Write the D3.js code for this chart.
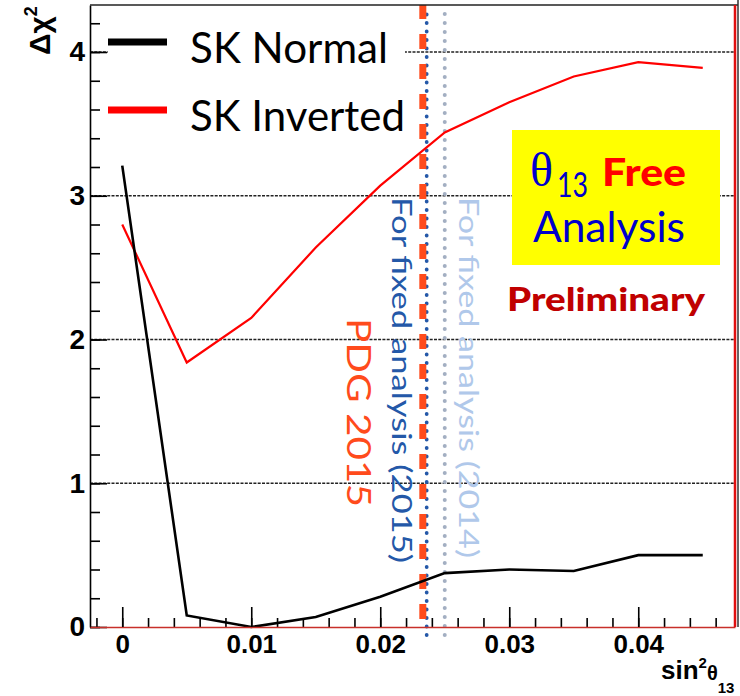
<!DOCTYPE html>
<html>
<head>
<meta charset="utf-8">
<script src="https://cdn.jsdelivr.net/npm/d3@7"></script>
<style>
body { margin: 0; background: #fff; }
svg { display: block; }
</style>
</head>
<body>
<svg width="740" height="696"></svg>
<script>
// DATA
var sin2 = [0, 0.005, 0.01, 0.015, 0.02, 0.025, 0.03, 0.035, 0.04, 0.045];
var skNormal = [3.21, 0.08, 0.0, 0.07, 0.21, 0.375, 0.40, 0.39, 0.50, 0.50];
var skInverted = [2.80, 1.84, 2.15, 2.64, 3.07, 3.44, 3.65, 3.83, 3.93, 3.89];
var seriesNames = ["SK Normal", "SK Inverted"];
var seriesColors = ["#000000", "#ff0000"];

var xTicks = [0, 0.01, 0.02, 0.03, 0.04];
var yTicks = [0, 1, 2, 3, 4];
var yGrid = [1, 2, 3, 4];

var pdg2015 = 0.0233;
var fixed2015 = 0.0236;
var fixed2014 = 0.0250;

var font_calibri = "Lato, 'Open Sans', sans-serif";
var font_root = "'Liberation Sans', Arial, sans-serif";

// SETUP
var svg = d3.select("svg"),
    x = d3.scaleLinear().domain([-0.0025, 0.0475]).range([90, 735]),
    y = d3.scaleLinear().domain([0, 4.327]).range([627, 5]);

var xMinor = d3.range(-1, 24).map(function (i) { return +(i * 0.002).toFixed(3); });
var yMinor = d3.range(0, 22).map(function (i) { return +(i * 0.2).toFixed(1); });

// GRID
svg.append("g").selectAll("line")
    .data(yGrid)
    .enter().append("line")
    .attr("x1", x.range()[0]).attr("x2", x.range()[1])
    .attr("y1", function (d) { return y(d); })
    .attr("y2", function (d) { return y(d); })
    .attr("stroke", "#222")
    .attr("stroke-width", 1.4)
    .attr("stroke-dasharray", "3,1.3");

// LEGEND BACKGROUND
svg.append("rect")
    .attr("x", 108).attr("y", 7)
    .attr("width", 297).attr("height", 143)
    .attr("fill", "#fff");

// REFERENCE LINES
svg.append("line")
    .attr("x1", x(fixed2014)).attr("x2", x(fixed2014))
    .attr("y1", y(0) + 8).attr("y2", 6)
    .attr("stroke", "#a3afc2").attr("stroke-width", 4)
    .attr("stroke-linecap", "round")
    .attr("stroke-dasharray", "0,9");

svg.append("line")
    .attr("x1", x(fixed2015)).attr("x2", x(fixed2015))
    .attr("y1", y(0) + 8).attr("y2", 6)
    .attr("stroke", "#2458a8").attr("stroke-width", 3.8)
    .attr("stroke-linecap", "round")
    .attr("stroke-dasharray", "0,8.5");

svg.append("line")
    .attr("x1", x(pdg2015)).attr("x2", x(pdg2015))
    .attr("y1", y(0)).attr("y2", 5)
    .attr("stroke", "#ff4b1c").attr("stroke-width", 7)
    .attr("stroke-dasharray", "15,15")
    .attr("stroke-dashoffset", 22);

// ROTATED LABELS
function vtext(tx, ty, str, size, color, len) {
    svg.append("text")
        .attr("transform", "translate(" + tx + "," + ty + ") rotate(90)")
        .attr("font-family", font_calibri)
        .attr("font-size", size)
        .attr("fill", color)
        .attr("textLength", len)
        .attr("lengthAdjust", "spacingAndGlyphs")
        .text(str);
}
vtext(392, 197, "For fixed analysis (2015)", 26, "#2458a8", 366);
vtext(459, 197, "For fixed analysis (2014)", 26, "#b0c8ea", 361);
vtext(347, 318, "PDG 2015", 32, "#ff4b1c", 189);

// DATA LINES
var line = d3.line()
    .x(function (d, i) { return x(sin2[i]); })
    .y(function (d) { return y(d); });

svg.append("path")
    .datum(skInverted)
    .attr("fill", "none")
    .attr("stroke", seriesColors[1])
    .attr("stroke-width", 2.2)
    .attr("d", line);

svg.append("path")
    .datum(skNormal)
    .attr("fill", "none")
    .attr("stroke", seriesColors[0])
    .attr("stroke-width", 2.6)
    .attr("d", line);

// AXES
function styleAxis(g) {
    g.selectAll(".tick line").attr("stroke", "#000").attr("stroke-width", 1.6);
    g.selectAll(".tick text")
        .attr("font-family", font_root)
        .attr("font-weight", "bold")
        .attr("font-size", 28)
        .attr("fill", "#000");
}

var gyMinor = svg.append("g").attr("transform", "translate(90,0)")
    .call(d3.axisLeft(y).tickValues(yMinor).tickSizeInner(-10).tickSizeOuter(0).tickFormat(""));
gyMinor.select(".domain").remove();
styleAxis(gyMinor);

var gy = svg.append("g").attr("transform", "translate(90,0)")
    .call(d3.axisLeft(y).tickValues(yTicks).tickSizeInner(-17).tickSizeOuter(0).tickPadding(5).tickFormat(d3.format("d")));
gy.select(".domain").attr("stroke", "#000").attr("stroke-width", 1.6);
styleAxis(gy);

var gxMinor = svg.append("g").attr("transform", "translate(0," + y(0) + ")")
    .call(d3.axisBottom(x).tickValues(xMinor).tickSizeInner(-9).tickSizeOuter(0).tickFormat(""));
gxMinor.select(".domain").remove();
styleAxis(gxMinor);

var gx = svg.append("g").attr("transform", "translate(0," + y(0) + ")")
    .call(d3.axisBottom(x).tickValues(xTicks).tickSizeInner(-20).tickSizeOuter(0).tickPadding(8)
        .tickFormat(function (d) { return d === 0 ? "0" : d3.format(".2f")(d); }));
gx.select(".domain").attr("stroke", "#c8302a").attr("stroke-width", 1.5);
styleAxis(gx);
gx.selectAll(".tick text").attr("font-size", 26);

// FRAME
svg.append("line")
    .attr("x1", 90).attr("x2", 738).attr("y1", 5).attr("y2", 5)
    .attr("stroke", "#222").attr("stroke-width", 1.6);
svg.append("line")
    .attr("x1", 735).attr("x2", 735).attr("y1", 5).attr("y2", y(0))
    .attr("stroke", "#e01010").attr("stroke-width", 2.5);
svg.append("line")
    .attr("x1", 738).attr("x2", 738).attr("y1", 0).attr("y2", y(0))
    .attr("stroke", "#333").attr("stroke-width", 1.5);

// AXIS TITLES
var yt = svg.append("text")
    .attr("transform", "translate(50,55) rotate(-90)")
    .attr("font-family", font_root)
    .attr("font-weight", "bold")
    .attr("font-size", 30)
    .attr("fill", "#000");
yt.append("tspan").text("\u0394\u03c7");
yt.append("tspan").attr("font-size", 18).attr("dy", -13).text("2");

var xt = svg.append("text")
    .attr("x", 661).attr("y", 679)
    .attr("font-family", font_root)
    .attr("font-weight", "bold")
    .attr("font-size", 26)
    .attr("fill", "#000");
xt.append("tspan").text("sin");
xt.append("tspan").attr("font-size", 15).attr("dy", -11).text("2");
xt.append("tspan").attr("font-size", 20).attr("dy", 12).text("\u03b8");
xt.append("tspan").attr("font-size", 15).attr("dy", 13).text("13");

// LEGEND
var legendY = [42, 110];
var legendLen = [198, 215];
seriesNames.forEach(function (name, i) {
    svg.append("line")
        .attr("x1", 108).attr("x2", 167)
        .attr("y1", legendY[i]).attr("y2", legendY[i])
        .attr("stroke", seriesColors[i])
        .attr("stroke-width", 7);
    svg.append("text")
        .attr("x", 190).attr("y", legendY[i] + 20.5)
        .attr("font-family", font_calibri)
        .attr("font-size", 42)
        .attr("fill", "#000")
        .attr("textLength", legendLen[i])
        .attr("lengthAdjust", "spacingAndGlyphs")
        .text(name);
});

// THETA13 FREE BOX
svg.append("rect")
    .attr("x", 512).attr("y", 130)
    .attr("width", 208).attr("height", 135)
    .attr("fill", "#ffff00");

svg.append("text")
    .attr("x", 530).attr("y", 186)
    .attr("font-family", "'Liberation Serif', 'DejaVu Serif', serif")
    .attr("font-size", 48)
    .attr("fill", "#0000cc")
    .text("\u03b8");
svg.append("text")
    .attr("x", 557).attr("y", 197)
    .attr("font-family", font_calibri)
    .attr("font-size", 34)
    .attr("fill", "#0000cc")
    .attr("textLength", 31)
    .attr("lengthAdjust", "spacingAndGlyphs")
    .text("13");
svg.append("text")
    .attr("x", 602).attr("y", 186)
    .attr("font-family", font_calibri)
    .attr("font-weight", "900")
    .attr("font-size", 38)
    .attr("fill", "#ff0000")
    .attr("textLength", 84)
    .attr("lengthAdjust", "spacingAndGlyphs")
    .text("Free");
svg.append("text")
    .attr("x", 533).attr("y", 242)
    .attr("font-family", font_calibri)
    .attr("font-size", 42)
    .attr("fill", "#0000cc")
    .attr("textLength", 152)
    .attr("lengthAdjust", "spacingAndGlyphs")
    .text("Analysis");

svg.append("text")
    .attr("x", 507).attr("y", 311)
    .attr("font-family", font_calibri)
    .attr("font-weight", "900")
    .attr("font-size", 32)
    .attr("fill", "#c00000")
    .attr("textLength", 198)
    .attr("lengthAdjust", "spacingAndGlyphs")
    .text("Preliminary");
</script>
</body>
</html>
